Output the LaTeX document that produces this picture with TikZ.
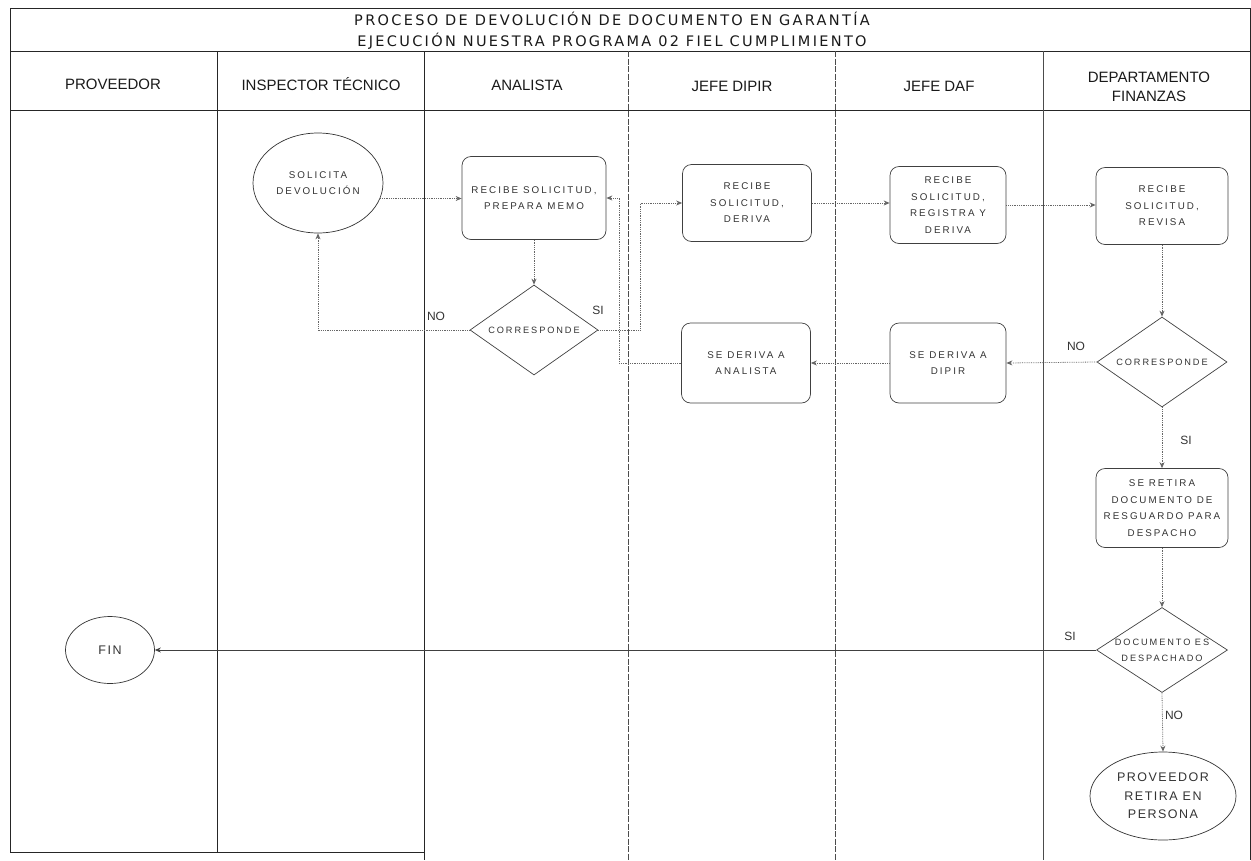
\documentclass[tikz,border=0pt]{standalone}
\usepackage{fontspec}
\setmainfont{Liberation Sans}
\newfontfamily\titlefont[LetterSpace=16]{DejaVu Sans}
\newfontfamily\headfont{Liberation Sans}
\newfontfamily\boxfont[LetterSpace=21]{Liberation Sans}
\newfontfamily\bigboxfont[LetterSpace=12]{Liberation Sans}
\usetikzlibrary{arrows.meta,shapes.geometric}
\begin{document}
\begin{tikzpicture}[x=1pt,y=-1pt,
  frame/.style={draw=black!85, line width=0.9pt},
  thinlane/.style={draw=black!70, line width=0.7pt, dash pattern=on 6pt off 1.5pt},
  proc/.style={draw=black!75, line width=0.7pt, rounded corners=9pt, align=center,
     font=\boxfont\fontsize{9.8}{16.5}\selectfont, inner sep=1pt, text=black!80},
  dia/.style={draw=black!75, line width=0.7pt, diamond, inner sep=0pt, aspect=1.4},
  ell/.style={draw=black!80, line width=0.7pt, ellipse, inner sep=0pt, align=center,
     font=\boxfont\fontsize{9.8}{16.5}\selectfont, text=black!80},
  btext/.style={align=center, font=\boxfont\fontsize{9.2}{16}\selectfont, text=black!80, inner sep=0pt},
  conn/.style={draw=black!60, line width=0.8pt, densely dotted, -{Stealth[length=6pt,width=5pt]}},
  lbl/.style={font=\fontsize{12}{12}\selectfont, text=black!80, inner sep=0pt},
  head/.style={font=\headfont\fontsize{15}{19}\selectfont, align=center, text=black!90}
]
\useasboundingbox (0,0) rectangle (1251,860);
% frame
\draw[frame] (10,8) -- (1250,8);
\draw[frame] (10,51) -- (1250,51);
\draw[frame] (10,110) -- (1250,110);
\draw[frame] (10,8) -- (10,852) -- (424,852);
\draw[frame] (217,51) -- (217,852);
\draw[frame] (424,51) -- (424,860);
\draw[thinlane] (628,51) -- (628,860);
\draw[thinlane] (835,51) -- (835,860);
\draw[frame, draw=black!70] (1043,51) -- (1043,860);
\draw[frame] (1250,8) -- (1250,860);
% title
\node[font=\titlefont\fontsize{14.5}{16}\selectfont, inner sep=0pt, text=black!90] (t1) at (612,19) {PROCESO DE DEVOLUCIÓN DE DOCUMENTO EN GARANTÍA};
\node[font=\titlefont\fontsize{14.5}{16}\selectfont, inner sep=0pt, text=black!90] (t2) at (612,41) {EJECUCIÓN NUESTRA PROGRAMA 02 FIEL CUMPLIMIENTO};
% headers
\node[head] (h1) at (113,84) {PROVEEDOR};
\node[head] (h2) at (321,84) {INSPECTOR TÉCNICO};
\node[head] (h3) at (527,85) {ANALISTA};
\node[head] (h4) at (732,86) {JEFE DIPIR};
\node[head] (h5) at (939,86) {JEFE DAF};
\node[head] (h6) at (1149,87) {DEPARTAMENTO\\FINANZAS};
% nodes
\node[ell, minimum width=130pt, minimum height=100pt] (sol) at (318,183) {SOLICITA\\DEVOLUCIÓN};
\node[proc, minimum width=144pt, minimum height=83pt] (prep) at (534,198) {RECIBE SOLICITUD,\\PREPARA MEMO};
\node[dia, minimum width=128pt, minimum height=90pt] (c1) at (534,330) {};
\node[btext] (c1t) at (c1) {CORRESPONDE};
\node[proc, minimum width=129pt, minimum height=77pt] (der) at (747,203) {RECIBE\\SOLICITUD,\\DERIVA};
\node[proc, minimum width=116pt, minimum height=77pt] (reg) at (948,205) {RECIBE\\SOLICITUD,\\REGISTRA Y\\DERIVA};
\node[proc, minimum width=132pt, minimum height=77pt] (rev) at (1162,206) {RECIBE\\SOLICITUD,\\REVISA};
\node[proc, minimum width=129pt, minimum height=80pt] (ana) at (746,363) {SE DERIVA A\\ANALISTA};
\node[proc, minimum width=116pt, minimum height=80pt] (dip) at (948,363) {SE DERIVA A\\DIPIR};
\node[dia, minimum width=130pt, minimum height=90pt] (c2) at (1162,362) {};
\node[btext] (c2t) at (c2) {CORRESPONDE};
\node[proc, minimum width=132pt, minimum height=79pt] (ret) at (1162,508) {SE RETIRA\\DOCUMENTO DE\\RESGUARDO PARA\\DESPACHO};
\node[dia, minimum width=131pt, minimum height=85pt] (desp) at (1162,650) {};
\node[btext] (despt) at (desp) {DOCUMENTO ES\\DESPACHADO};
\node[ell, minimum width=146pt, minimum height=88pt, font=\bigboxfont\fontsize{12.5}{18.5}\selectfont] (pers) at (1163,796) {PROVEEDOR\\RETIRA EN\\PERSONA};
\node[ell, minimum width=89pt, minimum height=67pt, font=\bigboxfont\fontsize{12.5}{14}\selectfont] (fin) at (110,650) {FIN};
% connectors
\draw[conn] (sol.-14) -- (sol.-14 -| prep.west);
\draw[conn] (prep.south) -- (c1.north);
\draw[conn] (c1.west) -| (sol.south);
\node[lbl] (lno1) at (436,316) {NO};
\draw[conn] (c1.east) -- ++(42,0) |- (der.west);
\node[lbl] (lsi1) at (598,310) {SI};
\draw[conn] (ana.west) -- ++(-62,0) |- (prep.east);
\draw[conn] (der.east) -- (der.east -| reg.west);
\draw[conn] (reg.east) -- (reg.east -| rev.west);
\draw[conn] (rev.south) -- (c2.north);
\draw[conn] (c2.west) -- (dip.east);
\node[lbl] (lno2) at (1076,346) {NO};
\draw[conn] (dip.west) -- (ana.east);
\draw[conn] (c2.south) -- (ret.north);
\node[lbl] (lsi2) at (1186,440) {SI};
\draw[conn] (ret.south) -- (desp.north);
\draw[conn, solid, draw=black!75] (desp.west) -- (fin.east);
\node[lbl] (lsi3) at (1070,636) {SI};
\draw[conn] (desp.south) -- (pers.north);
\node[lbl] (lno3) at (1174,715) {NO};
\end{tikzpicture}
\end{document}
